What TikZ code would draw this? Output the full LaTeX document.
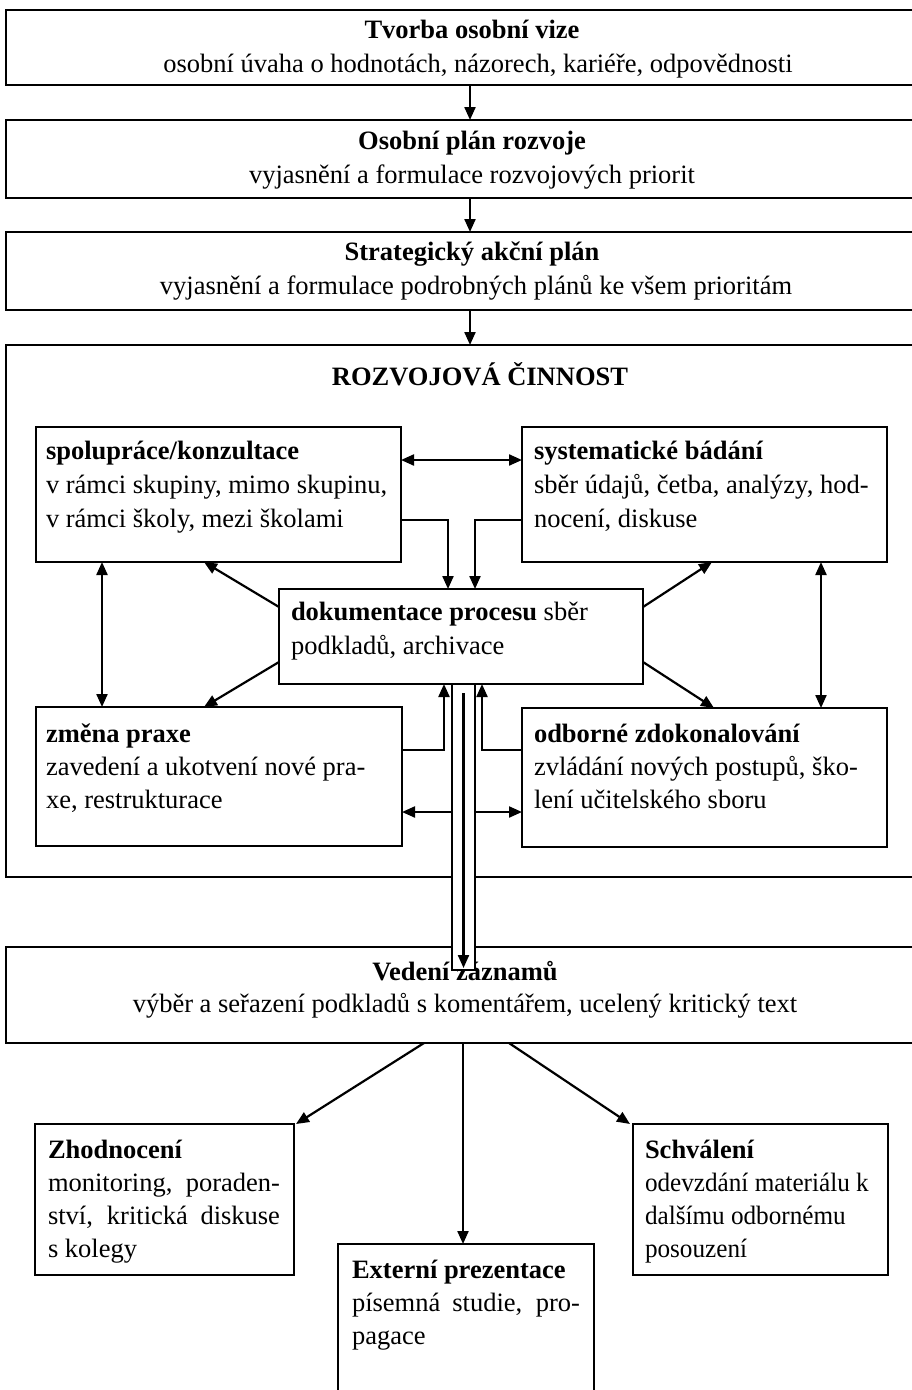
\documentclass[tikz,border=0pt]{standalone}
\usepackage{fontspec}
\setmainfont{Liberation Serif}
\usetikzlibrary{arrows.meta,calc}
\begin{document}
\begin{tikzpicture}[x=1pt,y=-1pt,
  box/.style={draw, line width=2.8pt, inner sep=0pt, outer sep=0pt, anchor=north west},
  txt/.style={inner sep=0pt, outer sep=0pt, font=\fontsize{26.5}{34}\selectfont},
  ctxt/.style={txt, anchor=base},
  ltxt/.style={txt, anchor=base west},
  conn/.style={line width=2.2pt},
  arr/.style={conn, -{Triangle[length=13pt,width=11pt]}},
  darr/.style={conn, {Triangle[length=13pt,width=11pt]}-{Triangle[length=13pt,width=11pt]}},
]
\useasboundingbox (0,0) rectangle (912,1390);

% boxes
\node[box, minimum width=928pt, minimum height=75pt] (b1) at (6,10) {};
\node[box, minimum width=928pt, minimum height=78pt] (b2) at (6,120) {};
\node[box, minimum width=928pt, minimum height=78pt] (b3) at (6,232) {};
\node[box, minimum width=928pt, minimum height=532pt] (big) at (6,345) {};
\node[box, minimum width=365pt, minimum height=135pt] (spol) at (36,427) {};
\node[box, minimum width=365pt, minimum height=135pt] (syst) at (522,427) {};
\node[box, minimum width=364pt, minimum height=95pt] (dok) at (279,589) {};
\node[box, minimum width=366pt, minimum height=139pt] (zmena) at (36,707) {};
\node[box, minimum width=365pt, minimum height=139pt] (odb) at (522,708) {};
\node[box, minimum width=928pt, minimum height=96pt] (ved) at (6,947) {};
\node[box, minimum width=259pt, minimum height=151pt] (zh) at (35,1124) {};
\node[box, minimum width=255pt, minimum height=151pt] (sch) at (633,1124) {};
\node[box, minimum width=256pt, minimum height=170pt] (ext) at (338,1244) {};

% top texts
\node[ctxt] (t1a) at (472,38) {\bfseries Tvorba osobní vize};
\node[ctxt] (t1b) at (478,72) {osobní úvaha o hodnotách, názorech, kariéře, odpovědnosti};
\node[ctxt] (t2a) at (472,149) {\bfseries Osobní plán rozvoje};
\node[ctxt] (t2b) at (472,183) {vyjasnění a formulace rozvojových priorit};
\node[ctxt] (t3a) at (472,260) {\bfseries Strategický akční plán};
\node[ctxt] (t3b) at (476,294) {vyjasnění a formulace podrobných plánů ke všem prioritám};
\node[ctxt] (tbig) at (480,385) {\bfseries ROZVOJOVÁ ČINNOST};

% inner texts
\node[ltxt] (s1) at (46,459) {\bfseries spolupráce/konzultace};
\node[ltxt] (s2) at (46,493) {v rámci skupiny, mimo skupinu,};
\node[ltxt] (s3) at (46,527) {v rámci školy, mezi školami};
\node[ltxt] (y1) at (534,459) {\bfseries systematické bádání};
\node[ltxt] (y2) at (534,493) {sběr údajů, četba, analýzy, hod-};
\node[ltxt] (y3) at (534,527) {nocení, diskuse};
\node[ltxt] (d1) at (291,620) {\textbf{dokumentace procesu} sběr};
\node[ltxt] (d2) at (291,654) {podkladů, archivace};
\node[ltxt] (z1) at (46,742) {\bfseries změna praxe};
\node[ltxt] (z2) at (46,775) {zavedení a ukotvení nové pra-};
\node[ltxt] (z3) at (46,808) {xe, restrukturace};
\node[ltxt] (o1) at (534,742) {\bfseries odborné zdokonalování};
\node[ltxt] (o2) at (534,775) {zvládání nových postupů, ško-};
\node[ltxt] (o3) at (534,808) {lení učitelského sboru};

% bottom texts
\node[ctxt] (v1) at (465,980) {\bfseries Vedení záznamů};
\node[ctxt] (v2) at (465,1012) {výběr a seřazení podkladů s komentářem, ucelený kritický text};
\node[ltxt] (h1) at (48,1158) {\bfseries Zhodnocení};
\node[ltxt] (h2) at (48,1191) {\makebox[232pt][s]{monitoring, poraden-}};
\node[ltxt] (h3) at (48,1224) {\makebox[232pt][s]{ství, kritická diskuse}};
\node[ltxt] (h4) at (48,1257) {s kolegy};
\node[ltxt] (c1) at (645,1158) {\bfseries Schválení};
\node[ltxt] (c2) at (645,1191) {\scalebox{0.95}[1]{odevzdání materiálu k}};
\node[ltxt] (c3) at (645,1224) {\scalebox{0.95}[1]{dalšímu odbornému}};
\node[ltxt] (c4) at (645,1257) {\scalebox{0.95}[1]{posouzení}};
\node[ltxt] (e1) at (352,1278) {\bfseries Externí prezentace};
\node[ltxt] (e2) at (352,1311) {\makebox[228pt][s]{písemná studie, pro-}};
\node[ltxt] (e3) at (352,1344) {pagace};

% top chain
\draw[arr] (b1.south) -- (b2.north);
\draw[arr] (b2.south) -- (b3.north);
\draw[arr] (b3.south) -- (big.north);

% inner connectors
\draw[darr] ([yshift=-33pt]spol.north east) -- ([yshift=-33pt]syst.north west);
\draw[arr] ([yshift=-93pt]spol.north east) -| ([xshift=-13pt]dok.north);
\draw[arr] ([yshift=-93pt]syst.north west) -| ([xshift=14pt]dok.north);
\draw[arr] ([yshift=-43pt]zmena.north east) -| ([xshift=-17pt]dok.south);
\draw[arr] ([yshift=-42pt]odb.north west) -| ([xshift=21pt]dok.south);
\draw[arr] ([yshift=-18pt]dok.north west) -- ([xshift=168pt]spol.south west);
\draw[arr] ([yshift=22pt]dok.south west) -- ([xshift=168pt]zmena.north west);
\draw[arr] ([yshift=-18pt]dok.north east) -- ([xshift=190pt]syst.south west);
\draw[arr] ([yshift=22pt]dok.south east) -- ([xshift=192pt]odb.north west);
\draw[darr] ([xshift=66pt]spol.south west) -- ([xshift=66pt]zmena.north west);
\draw[darr] ([xshift=299pt]syst.south west) -- ([xshift=299pt]odb.north west);

% double (hollow) arrow from dokumentace to Vedeni
\coordinate (oL) at ([xshift=-9pt]dok.south);
\coordinate (oR) at ([xshift=14pt]dok.south);
\coordinate (vIn) at ([yshift=-23pt]ved.north);
\coordinate (vTip) at ([yshift=-21pt]ved.north);
\coordinate (iT) at ([xshift=2.5pt,yshift=-9pt]dok.south);
\fill[white] ([yshift=-2pt]oL) rectangle (oR |- vIn);
\draw[conn] (oL) -- (oL |- vIn) -- (oR |- vIn) -- (oR);
\draw[arr] (iT) -- (iT |- vTip);
\coordinate (zE) at ([yshift=34pt]zmena.south east);
\coordinate (oE) at ([yshift=35pt]odb.south west);
\draw[arr] (oL |- zE) -- (zE);
\draw[arr] (oR |- oE) -- (oE);

% bottom connectors
\draw[arr] ([xshift=-46pt]ved.south) -- ([xshift=2pt]zh.north east);
\coordinate (vs) at ([xshift=-7pt]ved.south);
\draw[arr] (vs) -- (vs |- ext.north);
\draw[arr] ([xshift=39pt]ved.south) -- ([xshift=-3pt]sch.north west);
\end{tikzpicture}
\end{document}
